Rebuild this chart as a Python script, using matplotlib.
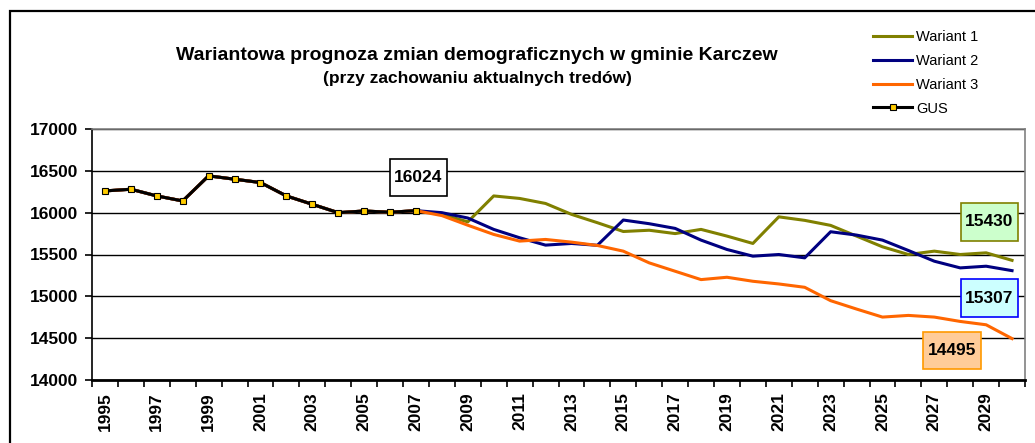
import numpy as np
import matplotlib.pyplot as plt
from matplotlib.patches import Rectangle

plt.rcParams['font.family'] = ['Liberation Sans', 'DejaVu Sans']

years = list(range(1995, 2031))

# GUS 1995-2007
gus = [16260, 16280, 16200, 16140, 16440, 16400, 16360, 16200, 16100,
       16000, 16020, 16005, 16024]

# prognozy 2008-2030
wariant1 = [15980, 15890, 16200, 16170, 16110, 15980, 15880, 15775, 15790,
            15750, 15800, 15720, 15632, 15950, 15908, 15848, 15720, 15592,
            15500, 15540, 15500, 15520, 15430]
wariant2 = [16000, 15936, 15800, 15700, 15612, 15632, 15610, 15912, 15868,
            15812, 15672, 15560, 15480, 15500, 15460, 15772, 15732, 15672,
            15548, 15420, 15340, 15360, 15307]
wariant3 = [15965, 15850, 15740, 15660, 15680, 15648, 15608, 15540, 15400,
            15300, 15200, 15228, 15180, 15148, 15108, 14948, 14848, 14752,
            14772, 14752, 14700, 14660, 14495]

labels = ['Wariant 1', 'Wariant 2', 'Wariant 3', 'GUS']
colors = ['#808000', '#000080', '#FF6600']

x = np.arange(len(years))
n_gus = len(gus)

fig = plt.figure(figsize=(10.35, 4.43), dpi=100)
ax = fig.add_axes([92 / 1035, 63 / 443, 933 / 1035, 251 / 443])

handles = []
for series, col, lab in zip([wariant1, wariant2, wariant3], colors, labels):
    full = gus + series
    h, = ax.plot(x, full, color=col, lw=2.2, label=lab, zorder=3)
    handles.append(h)
h, = ax.plot(x[:n_gus], gus, color='black', lw=2.2, marker='s', ms=4.2,
             mfc='#FFCC00', mec='black', mew=0.8, label=labels[3], zorder=4)
handles.append(h)

ax.set_xlim(-0.5, len(years) - 0.5)
ax.set_ylim(14000, 17000)
ax.set_yticks(np.arange(14000, 17001, 500))
ax.yaxis.grid(True, color='black', lw=1.0)
ax.set_axisbelow(True)

ax.set_xticks(x[::2])
ax.set_xticklabels([str(y) for y in years[::2]], rotation=90,
                   fontweight='bold', fontsize=12.5)
ax.set_xticks(np.arange(-0.5, len(years), 1), minor=True)
ax.tick_params(axis='x', which='major', length=0, pad=9)
ax.tick_params(axis='x', which='minor', length=5, width=1.2, direction='out')
ax.tick_params(axis='y', length=5, width=1.2, pad=5)
for t in ax.get_yticklabels():
    t.set_fontweight('bold')
    t.set_fontsize(12.5)

for side in ['top', 'right']:
    ax.spines[side].set_color('#808080')
    ax.spines[side].set_linewidth(1.2)
ax.spines['left'].set_linewidth(1.2)
ax.spines['bottom'].set_linewidth(2.0)

# etykiety
boxes = [
    ('16024', 11.0, 13.2, 16199, 16641, 'white', 'black'),
    ('15430', 33.03, 35.23, 15661, 16116, '#CCFFCC', '#808000'),
    ('15307', 33.03, 35.23, 14753, 15207, '#CCFFFF', '#0000FF'),
    ('14495', 31.56, 33.8, 14132, 14574, '#FFCC99', '#FF9900'),
]
for txt, x0, x1, y0, y1, fc, ec in boxes:
    ax.add_patch(Rectangle((x0, y0), x1 - x0, y1 - y0, facecolor=fc,
                           edgecolor=ec, lw=1.2, zorder=5, clip_on=False))
    ax.text((x0 + x1) / 2, (y0 + y1) / 2, txt, ha='center', va='center',
            fontsize=12.5, fontweight='bold', zorder=6)

fig.text(477 / 1035, 1 - 55 / 443,
         'Wariantowa prognoza zmian demograficznych w gminie Karczew',
         ha='center', va='center', fontsize=14, fontweight='bold')
fig.text(477 / 1035, 1 - 78 / 443, '(przy zachowaniu aktualnych tredów)',
         ha='center', va='center', fontsize=12.5, fontweight='bold')

fig.legend(handles=handles, labels=labels, loc='upper left',
           bbox_to_anchor=(867 / 1035, 1 - 24 / 443), frameon=False,
           fontsize=10.5, handlelength=2.7, handletextpad=0.25,
           labelspacing=0.68, borderaxespad=0)

# ramka
fig.patches.append(Rectangle((10 / 1035, -0.1), 1.2, 1.1 - 11 / 443,
                             transform=fig.transFigure, fill=False,
                             edgecolor='black', lw=1.6, zorder=0))

fig.savefig('out.png', dpi=100)
